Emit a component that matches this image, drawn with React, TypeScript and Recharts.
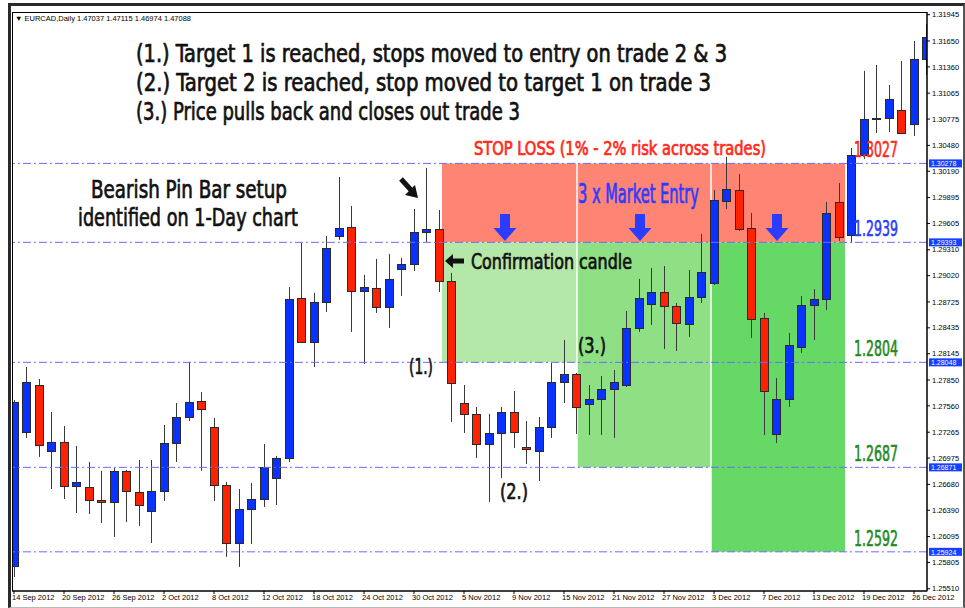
import React from "react";
import {
  ComposedChart,
  Bar,
  XAxis,
  YAxis,
  ReferenceLine,
  ReferenceArea,
} from "recharts";

// EURCAD daily, 14 Sep 2012 - 27 Dec 2012
const dates = [
  "14 Sep 2012",
  "17 Sep 2012", "18 Sep 2012", "19 Sep 2012", "20 Sep 2012", "21 Sep 2012",
  "24 Sep 2012", "25 Sep 2012", "26 Sep 2012", "27 Sep 2012", "28 Sep 2012",
  "1 Oct 2012", "2 Oct 2012", "3 Oct 2012", "4 Oct 2012", "5 Oct 2012",
  "8 Oct 2012", "9 Oct 2012", "10 Oct 2012", "11 Oct 2012", "12 Oct 2012",
  "15 Oct 2012", "16 Oct 2012", "17 Oct 2012", "18 Oct 2012", "19 Oct 2012",
  "22 Oct 2012", "23 Oct 2012", "24 Oct 2012", "25 Oct 2012", "26 Oct 2012",
  "29 Oct 2012", "30 Oct 2012", "31 Oct 2012", "1 Nov 2012", "2 Nov 2012",
  "5 Nov 2012", "6 Nov 2012", "7 Nov 2012", "8 Nov 2012", "9 Nov 2012",
  "12 Nov 2012", "13 Nov 2012", "14 Nov 2012", "15 Nov 2012", "16 Nov 2012",
  "19 Nov 2012", "20 Nov 2012", "21 Nov 2012", "22 Nov 2012", "23 Nov 2012",
  "26 Nov 2012", "27 Nov 2012", "28 Nov 2012", "29 Nov 2012", "30 Nov 2012",
  "3 Dec 2012", "4 Dec 2012", "5 Dec 2012", "6 Dec 2012", "7 Dec 2012",
  "10 Dec 2012", "11 Dec 2012", "12 Dec 2012", "13 Dec 2012", "14 Dec 2012",
  "17 Dec 2012", "18 Dec 2012", "19 Dec 2012", "20 Dec 2012", "21 Dec 2012",
  "24 Dec 2012", "26 Dec 2012", "27 Dec 2012",
];

const opens = [
  1.25766, 1.27268, 1.27794, 1.27055, 1.27156, 1.26662, 1.26651, 1.26505, 1.26483, 1.26831,
  1.26595, 1.26382, 1.26606, 1.27144, 1.27435, 1.27615, 1.27323, 1.26673, 1.26023, 1.26404,
  1.26516, 1.26752, 1.26976, 1.28769, 1.28277, 1.28725, 1.29465, 1.29566, 1.28848, 1.28882,
  1.28669, 1.29095, 1.29151, 1.2951, 1.29543, 1.2896, 1.27592, 1.27469, 1.27133, 1.27256,
  1.27491, 1.27099, 1.27055, 1.27323, 1.27828, 1.27918, 1.27581, 1.27637, 1.27749, 1.27794,
  1.28434, 1.28702, 1.28837, 1.2868, 1.28478, 1.28781, 1.28938, 1.29857, 1.2998, 1.29555,
  1.28545, 1.27245, 1.27637, 1.28221, 1.28691, 1.28758, 1.29846, 1.29476, 1.30373, 1.30776,
  1.30787, 1.30877, 1.3072, 1.31449,
];

const highs = [
  1.27626, 1.27996, 1.27861, 1.27491, 1.27335, 1.27111, 1.26931, 1.26831, 1.26864, 1.26842,
  1.26954, 1.26954, 1.27346, 1.27592, 1.28052, 1.27716, 1.27424, 1.26707, 1.26628, 1.26696,
  1.27133, 1.26998, 1.28893, 1.29386, 1.28826, 1.29465, 1.30126, 1.29801, 1.29028, 1.29207,
  1.29263, 1.29218, 1.29767, 1.30227, 1.29756, 1.2905, 1.27794, 1.27548, 1.27469, 1.27548,
  1.27727, 1.27391, 1.27435, 1.28041, 1.28299, 1.27929, 1.27794, 1.27895, 1.27962, 1.28624,
  1.28983, 1.29106, 1.29128, 1.28714, 1.29083, 1.29487, 1.2998, 1.30351, 1.3016, 1.29722,
  1.28601, 1.27873, 1.28377, 1.28792, 1.2887, 1.29846, 1.30059, 1.30451, 1.31315, 1.31382,
  1.31157, 1.31426, 1.3165, 1.31841,
];

const lows = [
  1.25642, 1.27201, 1.26988, 1.26628, 1.26516, 1.26359, 1.26348, 1.26247, 1.26091, 1.26258,
  1.26213, 1.26023, 1.26494, 1.26931, 1.27391, 1.26831, 1.26494, 1.25867, 1.25755, 1.26012,
  1.26427, 1.26449, 1.26931, 1.28266, 1.27996, 1.28612, 1.2942, 1.28389, 1.2803, 1.28601,
  1.28434, 1.28792, 1.29072, 1.29398, 1.28837, 1.2738, 1.27256, 1.26976, 1.26483, 1.26752,
  1.27088, 1.26909, 1.26718, 1.27201, 1.27592, 1.27245, 1.27234, 1.27234, 1.27201, 1.27772,
  1.28389, 1.28467, 1.28198, 1.28175, 1.28333, 1.28714, 1.28915, 1.29767, 1.29521, 1.28322,
  1.27234, 1.27144, 1.27548, 1.28153, 1.28299, 1.28635, 1.29409, 1.29386, 1.30328, 1.30619,
  1.3063, 1.30608, 1.30585, 1.31269,
];

const closes = [
  1.27604, 1.27828, 1.27122, 1.27156, 1.26662, 1.26707, 1.26505, 1.26483, 1.26831, 1.26606,
  1.26449, 1.26606, 1.27144, 1.27435, 1.27604, 1.27525, 1.26673, 1.26023, 1.26404, 1.26516,
  1.26875, 1.26976, 1.28758, 1.28277, 1.28725, 1.2933, 1.29555, 1.28848, 1.28893, 1.28669,
  1.28983, 1.29151, 1.2951, 1.29543, 1.2896, 1.27817, 1.27469, 1.27133, 1.27256, 1.27491,
  1.27268, 1.27077, 1.27323, 1.27828, 1.27918, 1.27548, 1.27637, 1.27749, 1.27828, 1.28434,
  1.28769, 1.28837, 1.2868, 1.28489, 1.28781, 1.29061, 1.29868, 1.29991, 1.29543, 1.28534,
  1.27727, 1.27637, 1.28243, 1.28691, 1.28758, 1.29722, 1.29454, 1.30373, 1.30776, 1.30787,
  1.31, 1.30619, 1.31449, 1.31695,
];

const priceTicks = [
  1.31945, 1.3165, 1.3136, 1.31065, 1.30775, 1.3048, 1.3019, 1.29895, 1.29605, 1.2931,
  1.2902, 1.28725, 1.28435, 1.28145, 1.2785, 1.2756, 1.27265, 1.26975, 1.2668, 1.2639,
  1.26095, 1.25805, 1.2551,
];

const dateTicks = [0, 4, 8, 12, 16, 20, 24, 28, 32, 36, 40, 44, 48, 52, 56, 60, 64, 68, 72];

// trade levels: stop, entry, target 1-3
const levels = [1.30278, 1.29393, 1.28048, 1.26871, 1.25924];
const levelNames = ["1.3027", "1.2939", "1.2804", "1.2687", "1.2592"];
const levelColors = ["#ff2a1a", "#2b3cff", "#1f8a1f", "#1f8a1f", "#1f8a1f"];

// three entries, each with its own target zone (in bar index units)
const entryStart = [34.24, 45.1, 55.82];
const entryEnd = [44.98, 55.7, 66.48];
const targetLevels = [1.28048, 1.26871, 1.25924];
const targetFills = ["#b4e8a9", "#8fdf85", "#66d865"];

const data = dates.map((d, i) => ({
  i,
  date: d,
  open: opens[i],
  high: highs[i],
  low: lows[i],
  close: closes[i],
}));

const Candle = (props: any) => {
  const { x, y, width, height, payload } = props;
  if (x == null || y == null) return null;
  const top = Math.min(y, y + height);
  const bottom = Math.max(y, y + height);
  const { open, close, high, low } = payload;
  const ratio = (bottom - top) / (high - low || 1);
  const at = (v: number) => top + (high - v) * ratio;
  const cx = Math.round(x + width / 2) + 0.5;
  const bull = close >= open;
  const bTop = Math.round(at(Math.max(open, close))) + 0.5;
  const bBot = Math.round(at(Math.min(open, close))) + 0.5;
  return (
    <g>
      <line x1={cx} x2={cx} y1={top} y2={bottom} stroke="#3a3a3a" strokeWidth={1} />
      <rect
        x={cx - 4}
        y={bTop}
        width={8}
        height={Math.max(1, bBot - bTop)}
        fill={bull ? "#0a32ff" : "#ff2200"}
        stroke="#2a2a2a"
        strokeWidth={1}
      />
    </g>
  );
};

const narrow = "'Liberation Sans Narrow', 'DejaVu Sans Condensed', 'Liberation Sans', sans-serif";

const LevelLabel = ({ viewBox, idx }: any) => {
  if (!viewBox) return null;
  const { x, y, width } = viewBox;
  const right = x + width;
  return (
    <g>
      <text
        x={right - 73}
        y={y - 6}
        fill={levelColors[idx]}
        stroke={levelColors[idx]}
        strokeWidth={0.6}
        fontSize={21}
        fontFamily={narrow}
        textLength={44}
        lengthAdjust="spacingAndGlyphs"
      >
        {levelNames[idx]}
      </text>
      <rect x={right + 2} y={y - 4} width={33} height={8} fill="#1440ff" />
      <text x={right + 4} y={y + 2.8} fill="#fff" fontSize={7} fontFamily="'Liberation Sans', Arial, sans-serif">
        {levels[idx].toFixed(5)}
      </text>
    </g>
  );
};

const Note = ({ x, y, size, len, color = "#111", children }: any) => (
  <text
    x={x}
    y={y}
    fontSize={size}
    fill={color}
    stroke={color}
    strokeWidth={0.7}
    fontFamily={narrow}
    textLength={len}
    lengthAdjust="spacingAndGlyphs"
  >
    {children}
  </text>
);

const downArrow = (cx: number) =>
  `${cx - 5},214 ${cx + 5},214 ${cx + 5},228 ${cx + 11.5},228 ${cx},241 ${cx - 11.5},228 ${cx - 5},228`;

export default function App() {
  return (
    <div style={{ position: "absolute", left: 0, top: 0, width: 965, height: 608, background: "#fff" }}>
      <div
        style={{
          position: "absolute",
          left: 8,
          top: 3,
          width: 952,
          height: 601,
          borderLeft: "3px solid #2a2a2a",
          borderTop: "3px solid #2a2a2a",
          borderRight: "2px solid #555",
          borderBottom: "1px solid #bbb",
        }}
      />
      <ComposedChart
        width={965}
        height={608}
        data={data}
        margin={{ top: 12, right: 0, bottom: 0, left: 12 }}
        style={{ position: "absolute", left: 0, top: 0 }}
      >
        <XAxis
          dataKey="i"
          type="number"
          domain={[-0.16, 73.04]}
          allowDataOverflow
          ticks={dateTicks}
          interval={0}
          tickFormatter={(v: number) => dates[v] ?? ""}
          height={17}
          stroke="#000"
          tickSize={3}
          tickMargin={1}
          tick={{ fontSize: 7.5, fill: "#000", textAnchor: "start", dx: -2, fontFamily: "'Liberation Sans', Arial, sans-serif" }}
        />
        <YAxis
          orientation="right"
          type="number"
          domain={[1.25485, 1.31975]}
          allowDataOverflow
          ticks={priceTicks}
          interval={0}
          width={38}
          stroke="#000"
          tickSize={3}
          tickMargin={2}
          tickFormatter={(v: number) => v.toFixed(5)}
          tick={{ fontSize: 7.5, fill: "#000", fontFamily: "'Liberation Sans', Arial, sans-serif" }}
        />

        {entryStart.map((s, k) => (
          <ReferenceArea
            key={`sl-${k}`}
            x1={s}
            x2={entryEnd[k]}
            y1={levels[1]}
            y2={levels[0]}
            fill="#fe8474"
            fillOpacity={1}
            stroke="none"
          />
        ))}
        {entryStart.map((s, k) => (
          <ReferenceArea
            key={`tp-${k}`}
            x1={s}
            x2={entryEnd[k]}
            y1={targetLevels[k]}
            y2={levels[1]}
            fill={targetFills[k]}
            fillOpacity={1}
            stroke="none"
          />
        ))}

        {levels.map((lv, k) => (
          <ReferenceLine
            key={`lv-${k}`}
            y={lv}
            stroke="#6b6bff"
            strokeDasharray="8 3 2 3"
            label={<LevelLabel idx={k} />}
          />
        ))}

        <Bar
          dataKey={(d: any) => [d.low, d.high]}
          barSize={8}
          shape={<Candle />}
          isAnimationActive={false}
        />
      </ComposedChart>

      <svg
        width={965}
        height={608}
        style={{ position: "absolute", left: 0, top: 0, pointerEvents: "none" }}
      >
        <rect x={12.5} y={12.5} width={914.5} height={578.5} fill="none" stroke="#000" />
        <text x={15} y={21} fontSize={7.5} fill="#000" fontFamily="'Liberation Sans', Arial, sans-serif" textLength={176} lengthAdjust="spacingAndGlyphs">
          ▼ EURCAD,Daily  1.47037 1.47115 1.46974 1.47088
        </text>

        <Note x={136} y={62} size={25} len={591}>(1.) Target 1 is reached, stops moved to entry on trade 2 &amp; 3</Note>
        <Note x={136} y={91} size={25} len={575}>(2.) Target 2 is reached, stop moved to target 1 on trade 3</Note>
        <Note x={136} y={120} size={25} len={384}>(3.) Price pulls back and closes out trade 3</Note>

        <Note x={91} y={198} size={25} len={196}>Bearish Pin Bar setup</Note>
        <Note x={78} y={226} size={25} len={220}>identified on 1-Day chart</Note>

        <Note x={474} y={155} size={19} len={292} color="#ff2a1a">STOP LOSS (1% - 2% risk across trades)</Note>
        <Note x={578} y={203} size={27} len={121} color="#2b3cff">3 x Market Entry</Note>
        <Note x={471} y={269} size={22} len={161}>Confirmation candle</Note>

        <Note x={409} y={374} size={22} len={24}>(1.)</Note>
        <Note x={500} y={499} size={22} len={28}>(2.)</Note>
        <Note x={578} y={353} size={22} len={28}>(3.)</Note>

        {[505, 640, 777].map((cx) => (
          <polygon key={cx} points={downArrow(cx)} fill="#2b3cff" />
        ))}

        {/* pin bar pointer */}
        <line x1={401} y1={179} x2={411} y2={190} stroke="#111" strokeWidth={5} />
        <polygon points="418,198 405,195 415,185" fill="#111" />
        {/* confirmation pointer */}
        <polygon points="445,261 453,254 453,258.5 464,258.5 464,263.5 453,263.5 453,268" fill="#111" />
      </svg>
    </div>
  );
}
